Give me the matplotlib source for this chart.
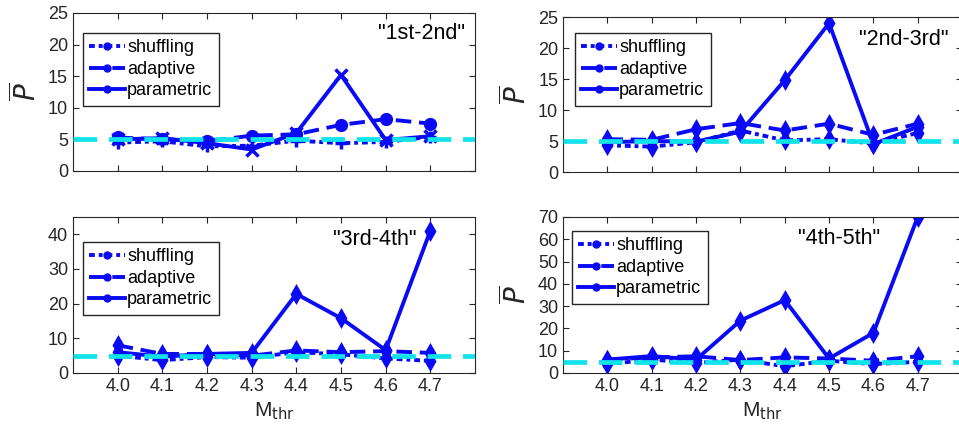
import numpy as np
import matplotlib.pyplot as plt
from matplotlib.lines import Line2D

plt.rcParams['font.family'] = ['Liberation Sans', 'DejaVu Sans']
plt.rcParams['mathtext.fontset'] = 'dejavusans'

m_thr = [4.0, 4.1, 4.2, 4.3, 4.4, 4.5, 4.6, 4.7]
tick_labels = ['4.0', '4.1', '4.2', '4.3', '4.4', '4.5', '4.6', '4.7']
series_names = ['shuffling', 'adaptive', 'parametric']
panel_titles = ['"1st-2nd"', '"2nd-3rd"', '"3rd-4th"', '"4th-5th"']

# shuffling / adaptive / parametric for each panel
shuffling_12 = [4.5, 4.7, 3.9, 4.0, 4.8, 4.4, 4.6, 5.4]
adaptive_12 = [5.3, 5.0, 4.7, 5.6, 5.8, 7.3, 8.2, 7.5]
parametric_12 = [5.0, 5.2, 4.4, 3.4, 6.0, 15.2, 4.9, 5.5]

shuffling_23 = [4.3, 4.1, 4.8, 6.7, 5.1, 5.3, 4.6, 6.3]
adaptive_23 = [5.3, 5.2, 6.9, 7.9, 6.7, 7.8, 6.0, 7.8]
parametric_23 = [4.8, 5.0, 4.9, 6.5, 14.8, 24.0, 4.5, 7.3]

shuffling_34 = [5.0, 3.7, 4.6, 4.4, 6.0, 5.4, 4.2, 3.5]
adaptive_34 = [8.0, 5.5, 5.5, 5.0, 6.5, 6.0, 6.3, 5.8]
parametric_34 = [6.0, 4.7, 5.5, 5.8, 22.8, 15.8, 6.6, 41.0]

shuffling_45 = [4.0, 6.0, 4.5, 6.0, 3.0, 5.5, 4.0, 5.0]
adaptive_45 = [6.0, 7.0, 7.5, 5.8, 7.0, 6.5, 5.5, 7.5]
parametric_45 = [6.0, 7.6, 6.0, 23.5, 32.7, 6.5, 18.0, 70.0]

panels = [
    (shuffling_12, adaptive_12, parametric_12),
    (shuffling_23, adaptive_23, parametric_23),
    (shuffling_34, adaptive_34, parametric_34),
    (shuffling_45, adaptive_45, parametric_45),
]
y_limits = [(0, 25), (0, 25), (0, 45), (0, 70)]
y_steps = [5, 5, 10, 10]
reference_level = 5

blue = '#0a0af5'
cyan = '#10e4ea'
dark = '#262626'

# axes rectangles in figure fraction (left, bottom, width, height)
rects = [
    (0.0761, 0.6166, 0.4192, 0.3543),
    (0.5871, 0.6143, 0.4161, 0.3475),
    (0.0761, 0.1637, 0.4192, 0.3498),
    (0.5871, 0.1637, 0.4161, 0.3498),
]
legend_corner = [(83, 33), (575, 33), (83, 242), (572, 231)]
title_pos = [(465, 23), (948, 29), (416, 229), (880, 228)]

styles = [(0, (1.5, 1.0, 1, 1.0)), (0, (4, 2)), '-']
marker_sets = [['+', 'o', 'x'], ['d', 'd', 'd'], ['d', 'd', 'd'], ['d', 'd', 'd']]
marker_sizes = [[9, 7, 8], [7.5, 7.5, 7.5], [7.5, 7.5, 7.5], [7.5, 7.5, 7.5]]

fig = plt.figure(figsize=(9.59, 4.46), dpi=100)

for k in range(4):
    ax = fig.add_axes(rects[k])
    for j in range(3):
        ax.plot(m_thr, panels[k][j], color=blue, lw=2.8, linestyle=styles[j],
                marker=marker_sets[k][j], ms=marker_sizes[k][j], mew=2.5, zorder=2)
    ax.axhline(reference_level, color=cyan, lw=3.4, linestyle=(0, (5, 2.5)), zorder=3)

    ax.set_xlim(3.9, 4.8)
    ax.set_ylim(*y_limits[k])
    ax.set_yticks(np.arange(y_limits[k][0], y_limits[k][1] + 1, y_steps[k]))
    ax.set_xticks(m_thr)
    if k >= 2:
        ax.set_xticklabels(tick_labels)
        ax.set_xlabel('M$_{\\mathrm{thr}}$', fontsize=15, color=dark, labelpad=4)
    else:
        ax.set_xticklabels([])
    ax.tick_params(direction='in', top=True, right=True, labelsize=13,
                   colors=dark, length=4, width=0.8)
    for s in ax.spines.values():
        s.set_color(dark)
        s.set_linewidth(0.8)
    if k != 2:
        ax.set_ylabel('$\\overline{P}$', fontsize=20, color=dark, labelpad=4)
    tx, ty = title_pos[k]
    fig.text(tx / 959, 1 - ty / 446, panel_titles[k], ha='right', va='top',
             fontsize=15.5, color='black')

    handles = [Line2D([], [], color=blue, lw=2.8, linestyle=styles[j], marker='o', ms=5)
               for j in range(3)]
    lx, ly = legend_corner[k]
    ax.legend(handles, series_names, loc='upper left',
              bbox_to_anchor=(lx / 959, 1 - ly / 446), bbox_transform=fig.transFigure,
              fontsize=13, handlelength=2.0, handletextpad=0.1, labelspacing=0.25,
              borderpad=0.35, borderaxespad=0, frameon=True, fancybox=False,
              edgecolor=dark, framealpha=1)

fig.savefig('out.png', dpi=100)
